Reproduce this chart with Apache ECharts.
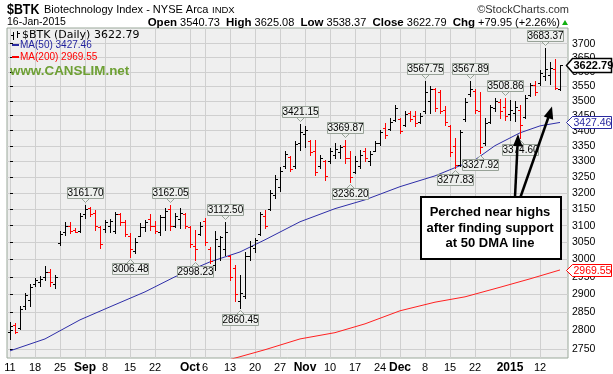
<!DOCTYPE html>
<html><head><meta charset="utf-8">
<script src="https://cdn.jsdelivr.net/npm/echarts@6/dist/echarts.min.js"></script>
<style>html,body{margin:0;padding:0;background:#fff}#c{width:613px;height:374px}</style>
</head><body><div id="c"></div>
<script>
// ---- data ----
const opens = [2795,2815,2806,2868,2885,2930,2935,2950,2965,2930,
3048,3080,3100,3088,3085,3135,3155,3140,3095,3090,
3100,3085,3135,3110,3070,3025,3070,3095,3120,3100,
3080,3125,3150,3100,3120,3135,3095,3040,3075,3115,
3030,2985,3040,3030,3010,2975,2880,2895,3010,3035,
3075,3130,3150,3195,3220,3285,3315,3285,3360,3390,
3365,3335,3285,3300,3300,3320,3330,3350,3310,3265,
3285,3335,3300,3335,3360,3410,3405,3435,3440,3420,
3460,3450,3430,3465,3500,3540,3530,3470,3415,3350,
3290,3440,3525,3535,3465,3360,3430,3475,3495,3480,
3455,3460,3470,3445,3520,3555,3560,3585,3590,3610,3540.73];
const highs = [2823,2820,2866,2903,2930,2946,2953,2982,2972,2955,
3083,3110,3110,3093,3138,3161.70,3158,3148,3098,3118,
3120,3143,3140,3118,3078,3063,3108,3118,3136,3113,
3133,3155,3162.05,3138,3155,3139,3100,3088,3112,3124,
3038,3083,3068,3112.50,3014,2984,2955,3023,3053,3063,
3143,3148,3210,3257,3283,3333,3316,3365,3421.15,3415,
3370,3370,3321,3305,3344,3360,3352,3369.87,3333,3316,
3338,3344,3333,3365,3403,3425,3443,3487,3443,3465,
3465,3465,3459,3567.75,3551,3545,3538,3481,3420,3376,
3403,3510,3567.89,3540,3531,3443,3487,3510,3507,3508.86,
3504,3498,3487,3521,3561,3567,3607,3683.37,3636,3646,3625.08];
const lows = [2777,2793,2804,2860,2868,2924,2924,2941,2924,2919,
3043,3073,3078,3080,3080,3123,3128,3088,3035,3080,
3080,3078,3103,3068,3006.48,3019,3068,3083,3088,3078,
3073,3088,3088,3097,3093,3093,3038,2998.23,3073,3043,
2989,2970,2999,3014,2941,2880,2860.45,2889,2999,3023,
3073,3093,3148,3185,3207,3279,3268,3279,3338,3348,
3321,3257,3279,3242,3296,3312,3311,3296,3236.20,3263,
3279,3302,3289,3333,3354,3376,3403,3431,3392,3414,
3431,3414,3425,3459,3459,3465,3459,3418,3316,3277.83,
3284,3432,3515,3460,3327.92,3354,3426,3465,3443,3437,
3437,3431,3374.60,3442,3515,3521,3555,3572,3557,3540,3538.37];
const closes = [2812,2797,2860,2898,2922,2940,2945,2965,2935,2950,
3075,3100,3085,3082,3130,3150,3135,3100,3045,3110,
3115,3135,3110,3075,3030,3050,3095,3110,3100,3085,
3125,3145,3100,3130,3140,3100,3045,3030,3100,3050,
2995,3060,3065,3080,2950,2900,2905,3010,3040,3058,
3135,3100,3200,3245,3270,3325,3275,3355,3395,3402,
3330,3265,3310,3255,3335,3340,3346,3310,3250,3300,
3320,3310,3325,3360,3395,3385,3430,3475,3400,3455,
3440,3425,3450,3530,3540,3475,3465,3430,3330,3290,
3395,3495,3540,3470,3345,3425,3480,3500,3465,3450,
3470,3480,3420,3510,3555,3530,3595,3610,3615,3542.84,3622.79];

const ma50Idx = [0,7,14,20,27,33,40,46,51,58,65,71,78,85,89,93,97,102,106,110];
const ma50Val = [2745,2777,2829,2865,2907,2950,2993,3022,3058,3112,3152,3179,3220,3254,3280,3305,3351,3393,3416,3427.46];
const ma200Idx = [44,51,58,65,71,78,85,91,98,104,110];
const ma200Val = [2722,2748,2777,2794,2818,2854,2878,2893,2920,2944,2969.55];

const xTickIdx = [0,5,10,15,19,24,29,36,39,44,49,54,59,64,69,74,78,83,88,93,100,106];
const xTickLabels = ['11','18','25','Sep','8','15','22','Oct','6','13','20','27','Nov','10','17','24','Dec','8','15','22','2015','12'];
const monthLabels = ['Sep','Oct','Nov','Dec','2015'];
const yTicks = [2750,2800,2850,2900,2950,3000,3050,3100,3150,3200,3250,3300,3350,3400,3450,3500,3550,3600,3650,3700];

const annHighIdx = [15,32,43,58,67,83,92,99,107];
const annLowIdx = [24,37,46,68,89,94,102];

// ---- build ----
const last = closes.length - 1;
const ohlc = closes.map((c, i) => [i, opens[i], highs[i], lows[i], c, (i === 0 || c >= closes[i - 1]) ? 1 : 0]);
const ann = annHighIdx.map(i => [i, highs[i], 1]).concat(annLowIdx.map(i => [i, lows[i], -1]));
const ma50 = ma50Idx.map((d, k) => [d, ma50Val[k]]);
const ma200 = ma200Idx.map((d, k) => [d, ma200Val[k]]);
const tags = [[last, closes[last], 0], [last, ma50Val[ma50Val.length - 1], 1], [last, ma200Val[ma200Val.length - 1], 2]];
const chg = closes[last] - closes[last - 1];
const pct = chg / closes[last - 1] * 100;

const FONT = '"Liberation Sans", Arial, sans-serif';
const gridColor = '#cfcfcf';

function renderBar(params, api) {
  const i = api.value(0);
  const o = api.coord([i, api.value(1)]);
  const h = api.coord([i, api.value(2)]);
  const l = api.coord([i, api.value(3)]);
  const c = api.coord([i, api.value(4)]);
  const x = Math.round(h[0]) + 0.5;
  const style = { stroke: api.value(5) ? '#000000' : '#ff0000', lineWidth: 1 };
  const oy = Math.round(o[1]) + 0.5, cy = Math.round(c[1]) + 0.5;
  return { type: 'group', children: [
    { type: 'line', shape: { x1: x, y1: Math.round(h[1]), x2: x, y2: Math.round(l[1]) + 1 }, style },
    { type: 'line', shape: { x1: x - 2.5, y1: oy, x2: x, y2: oy }, style },
    { type: 'line', shape: { x1: x, y1: cy, x2: x + 2.5, y2: cy }, style }
  ]};
}

function renderAnn(params, api) {
  const i = api.value(0), v = api.value(1), dir = api.value(2);
  const p = api.coord([i, v]);
  const x = Math.round(p[0]) + 0.5;
  const w = 36, hg = 11;
  let by, tri;
  if (dir > 0) {
    const b = Math.round(p[1]) - 6.5;
    by = b - hg; tri = [[x - 4, b], [x + 4, b], [x, b + 4]];
  } else {
    const t = Math.round(p[1]) + 6.5;
    by = t; tri = [[x - 4, t], [x + 4, t], [x, t - 4]];
  }
  return { type: 'group', children: [
    { type: 'polygon', shape: { points: tri }, style: { fill: '#eef0ee', stroke: '#98a298', lineWidth: 1 } },
    { type: 'rect', shape: { x: x - w / 2, y: by, width: w, height: hg }, style: { fill: '#eef0ee', stroke: '#98a298', lineWidth: 1 } },
    { type: 'text', style: { x: x, y: by + hg / 2 + 0.5, text: v.toFixed(2), textAlign: 'center', textVerticalAlign: 'middle', font: '10px ' + FONT, fill: '#000' } }
  ]};
}

function renderTag(params, api) {
  const v = api.value(1), k = api.value(2);
  const p = api.coord([api.value(0), v]);
  const cs = params.coordSys;
  const gx = cs.x + cs.width;
  const y = Math.round(p[1]) + 0.5;
  const col = ['#000000', '#2a2aa0', '#ff0000'][k];
  const hh = k === 0 ? 7 : 6;
  const x0 = gx - 1.5, x1 = x0 + 6, x2 = gx + 43.5;
  return { type: 'group', children: [
    { type: 'polygon', shape: { points: [[x0, y], [x1, y - hh], [x2, y - hh], [x2, y + hh], [x1, y + hh]] },
      style: { fill: '#ffffff', stroke: col, lineWidth: k === 0 ? 1.5 : 1 } },
    { type: 'text', style: { x: x1 + 1, y: y + 0.5, text: v.toFixed(2), textVerticalAlign: 'middle',
      font: (k === 0 ? 'bold 11px ' : '10.5px ') + FONT, fill: k === 0 ? '#000' : col } }
  ]};
}

const chart = echarts.init(document.getElementById('c'), null, { renderer: 'canvas' });
const hdrY = 22.5;
const T = (x, y, text, font, fill, extra) => ({ type: 'text', z: 100, style: Object.assign({ x, y, text, font, fill: fill || '#000', textVerticalAlign: 'middle' }, extra || {}) });

const hdrText = '{b|Open} ' + opens[last].toFixed(2) + '  {b|High} ' + highs[last].toFixed(2) +
  '  {b|Low} ' + lows[last].toFixed(2) + '  {b|Close} ' + closes[last].toFixed(2) +
  '  {b|Chg} ' + (chg >= 0 ? '+' : '') + chg.toFixed(2) + ' (' + (pct >= 0 ? '+' : '') + pct.toFixed(2) + '%)';

chart.setOption({
  animation: false,
  backgroundColor: '#ffffff',
  grid: { left: 7, right: 45, top: 28, bottom: 16, show: true, backgroundColor: '#efefef',
          borderColor: '#9aa89a', borderWidth: 1, containLabel: false, outerBoundsMode: 'none' },
  xAxis: {
    type: 'value', min: -0.6, max: 111.6,
    axisLine: { show: false },
    axisTick: { show: false, customValues: xTickIdx },
    splitLine: { show: true, lineStyle: { color: gridColor, width: 1 } },
    axisLabel: {
      customValues: xTickIdx, margin: 4, fontSize: 11, color: '#000', fontFamily: 'Liberation Sans',
      formatter: function (v) {
        const k = xTickIdx.indexOf(Math.round(v));
        const s = k >= 0 ? xTickLabels[k] : '';
        return monthLabels.indexOf(s) >= 0 ? '{b|' + s + '}' : s;
      },
      rich: { b: { fontWeight: 'bold', fontSize: 12, fontFamily: 'Liberation Sans', color: '#000' } }
    }
  },
  yAxis: {
    type: 'log', logBase: 10, min: 2726, max: 3757, position: 'right',
    axisLine: { show: false },
    axisTick: { show: true, length: 3, customValues: yTicks, lineStyle: { color: '#000' } },
    splitLine: { show: true, lineStyle: { color: gridColor, width: 1 } },
    axisLabel: { customValues: yTicks, margin: 4, fontSize: 10.5, color: '#000', fontFamily: 'Liberation Sans',
      formatter: v => String(Math.round(v)) }
  },
  series: [
    { type: 'line', name: 'MA(200)', data: ma200, symbol: 'none', lineStyle: { color: '#ff2020', width: 1 }, z: 2, clip: true },
    { type: 'line', name: 'MA(50)', data: ma50, symbol: 'none', lineStyle: { color: '#2e2ea8', width: 1 }, z: 2, clip: true },
    { type: 'custom', name: '$BTK', data: ohlc, renderItem: renderBar, z: 3, encode: { x: 0, y: [1, 2, 3, 4] } },
    { type: 'custom', name: 'ann', data: ann, renderItem: renderAnn, z: 4, encode: { x: 0, y: 1 } },
    { type: 'custom', name: 'tags', data: tags, renderItem: renderTag, z: 5, encode: { x: 0, y: 1 } }
  ],
  graphic: [
    { type: 'text', z: 100, x: 7, y: 9.5, scaleX: 0.8, style: { x: 0, y: 0, text: '$BTK', font: 'bold 15.5px ' + FONT, fill: '#000', textVerticalAlign: 'middle' } },
    T(44, 9.5, 'Biotechnology Index - NYSE Arca', '11px ' + FONT),
    T(212, 10, 'INDX', '9.5px ' + FONT),
    T(569, 9.5, '\u00A9StockCharts.com', '11px ' + FONT, '#333', { textAlign: 'right' }),
    T(7, hdrY, '16-Jan-2015', '10.5px ' + FONT),
    T(560, hdrY, hdrText, '11px ' + FONT, '#000', { textAlign: 'right', rich: { b: { font: 'bold 11.5px ' + FONT, fill: '#000' } } }),
    { type: 'polygon', z: 100, shape: { points: [[562, 25], [568, 25], [565, 20]] }, style: { fill: '#10b010' } },
    // legend inside plot
    { type: 'line', z: 100, shape: { x1: 13.5, y1: 32, x2: 13.5, y2: 40 }, style: { stroke: '#000', lineWidth: 1 } },
    { type: 'line', z: 100, shape: { x1: 11, y1: 35.5, x2: 13.5, y2: 35.5 }, style: { stroke: '#000', lineWidth: 1 } },
    { type: 'line', z: 100, shape: { x1: 17.5, y1: 31, x2: 17.5, y2: 38 }, style: { stroke: '#000', lineWidth: 1 } },
    { type: 'line', z: 100, shape: { x1: 17.5, y1: 33.5, x2: 20, y2: 33.5 }, style: { stroke: '#000', lineWidth: 1 } },
    T(22, 35.5, '$BTK (Daily) ' + closes[last].toFixed(2), '11px "DejaVu Sans", sans-serif'),
    { type: 'line', z: 100, shape: { x1: 12, y1: 45, x2: 19, y2: 45 }, style: { stroke: '#2a2aa0', lineWidth: 2 } },
    T(20, 45, 'MA(50) ' + ma50Val[ma50Val.length - 1].toFixed(2), '10px ' + FONT, '#1e1e9c'),
    { type: 'line', z: 100, shape: { x1: 12, y1: 57, x2: 19, y2: 57 }, style: { stroke: '#ff0000', lineWidth: 2 } },
    T(20, 57, 'MA(200) ' + ma200Val[ma200Val.length - 1].toFixed(2), '10px ' + FONT, '#ff0000'),
    T(10, 71, 'www.CANSLIM.net', 'bold 13.4px ' + FONT, '#6ea034'),
    // callout box
    { type: 'rect', z: 100, shape: { x: 421, y: 197, width: 140, height: 62 }, style: { fill: '#ffffff', stroke: '#000', lineWidth: 2 } },
    T(490, 212.5, 'Perched near highs', 'bold 13px ' + FONT, '#000', { textAlign: 'center' }),
    T(490, 228, 'after finding support', 'bold 13px ' + FONT, '#000', { textAlign: 'center' }),
    T(490, 243.5, 'at 50 DMA line', 'bold 13px ' + FONT, '#000', { textAlign: 'center' }),
    // arrows
    { type: 'line', z: 100, shape: { x1: 515, y1: 197, x2: 517.6, y2: 144 }, style: { stroke: '#000', lineWidth: 2.5 } },
    { type: 'polygon', z: 100, shape: { points: [[518, 134], [513, 146], [522.5, 146.4]] }, style: { fill: '#000' } },
    { type: 'line', z: 100, shape: { x1: 520.5, y1: 197, x2: 548.5, y2: 117 }, style: { stroke: '#000', lineWidth: 2.5 } },
    { type: 'polygon', z: 100, shape: { points: [[552, 106.5], [543.8, 116.5], [553.2, 119.8]] }, style: { fill: '#000' } }
  ]
});
</script>
</body></html>
